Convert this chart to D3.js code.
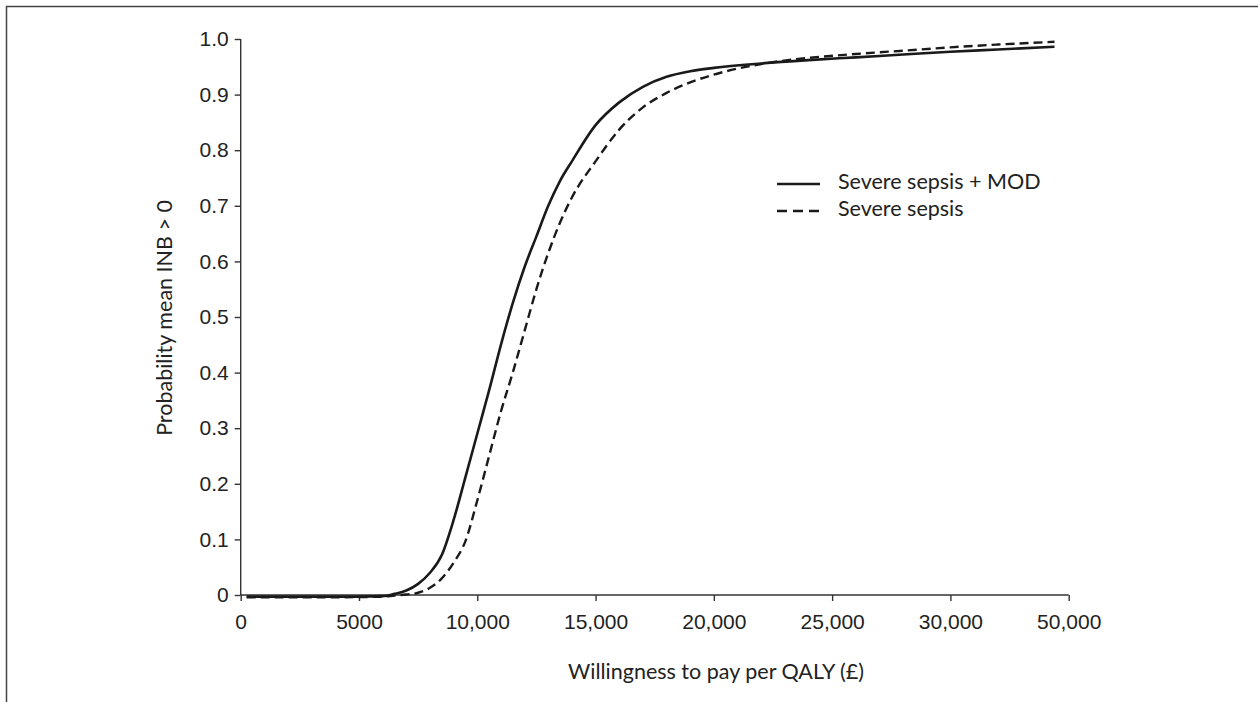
<!DOCTYPE html>
<html>
<head>
<meta charset="utf-8">
<script src="https://cdn.jsdelivr.net/npm/d3@7"></script>
<style>
  body { margin: 0; background: #fff; }
  svg { display: block; font-family: Lato, "Open Sans", sans-serif; }
  .axis path, .axis line { stroke: #333; stroke-width: 1.4px; }
  .axis text { fill: #222; font-size: 21px; }
</style>
</head>
<body>
<svg id="chart" width="1258" height="702"></svg>
<script>
// willingness to pay (x positions on the chart's own scale)
const wtp = [250, 2000, 4000, 6000, 6500, 7000, 7500, 8000, 8500, 9000, 9500, 10000,
  10500, 11000, 11500, 12000, 12500, 13000, 13500, 14000, 15000, 16000, 17000,
  18000, 19000, 20000, 22000, 24000, 26000, 28000, 30000, 32000, 34400];

const sepsisMod = [-0.003, -0.003, -0.003, -0.002, 0.002, 0.008, 0.02, 0.04, 0.072, 0.135,
  0.212, 0.29, 0.368, 0.45, 0.525, 0.59, 0.645, 0.70, 0.745, 0.78, 0.845, 0.886,
  0.914, 0.932, 0.942, 0.948, 0.956, 0.962, 0.967, 0.972, 0.977, 0.981, 0.986];

const sepsis = [-0.004, -0.004, -0.004, -0.003, -0.001, 0.001, 0.004, 0.013, 0.03, 0.058,
  0.097, 0.17, 0.25, 0.33, 0.40, 0.475, 0.55, 0.615, 0.67, 0.715, 0.78, 0.837,
  0.877, 0.903, 0.922, 0.936, 0.955, 0.966, 0.973, 0.979, 0.985, 0.99, 0.995];

const xTicks = [0, 5000, 10000, 15000, 20000, 25000, 30000, 35000];
const xTickLabels = ["0", "5000", "10,000", "15,000", "20,000", "25,000", "30,000", "50,000"];
const yTicks = [0, 0.1, 0.2, 0.3, 0.4, 0.5, 0.6, 0.7, 0.8, 0.9, 1.0];

const seriesNames = ["Severe sepsis + MOD", "Severe sepsis"];

const svg = d3.select("#chart");

// outer frame
svg.append("rect")
  .attr("x", 6.5).attr("y", 6.5)
  .attr("width", 1400).attr("height", 900)
  .attr("fill", "none")
  .attr("stroke", "#444")
  .attr("stroke-width", 1.5);

const plotLeft = 240.7, plotRight = 1068.7, plotTop = 39, plotBottom = 595;

const x = d3.scaleLinear().domain([0, 35000]).range([plotLeft, plotRight]);
const y = d3.scaleLinear().domain([0, 1]).range([plotBottom, plotTop]);

const xAxis = svg.append("g")
  .attr("class", "axis")
  .attr("transform", `translate(0,${plotBottom})`)
  .call(d3.axisBottom(x)
    .tickValues(xTicks)
    .tickSize(6)
    .tickSizeOuter(0)
    .tickPadding(13)
    .tickFormat((d, i) => xTickLabels[i]));

const yAxis = svg.append("g")
  .attr("class", "axis")
  .attr("transform", `translate(${plotLeft},0)`)
  .call(d3.axisLeft(y)
    .tickValues(yTicks)
    .tickSize(6)
    .tickSizeOuter(0)
    .tickPadding(6)
    .tickFormat(d => d === 0 ? "0" : d.toFixed(1)));

xAxis.select(".domain").attr("d", `M${plotLeft},0H${plotRight}`);
yAxis.select(".domain").attr("d", `M0,${plotBottom}V${plotTop}`);

// axis titles
svg.append("text")
  .attr("x", 716).attr("y", 679)
  .attr("text-anchor", "middle")
  .attr("font-size", 21.5)
  .attr("fill", "#222")
  .text("Willingness to pay per QALY (£)");

svg.append("text")
  .attr("transform", "translate(172,318) rotate(-90)")
  .attr("text-anchor", "middle")
  .attr("font-size", 21.5)
  .attr("fill", "#222")
  .text("Probability mean INB > 0");

const line = values => d3.line()
  .x((d, i) => x(wtp[i]))
  .y(d => y(d))
  .curve(d3.curveMonotoneX)(values);

svg.append("path")
  .attr("d", line(sepsis))
  .attr("fill", "none")
  .attr("stroke", "#1a1a1a")
  .attr("stroke-width", 2.4)
  .attr("stroke-dasharray", "9,5");

svg.append("path")
  .attr("d", line(sepsisMod))
  .attr("fill", "none")
  .attr("stroke", "#1a1a1a")
  .attr("stroke-width", 2.6);

// legend
const legend = svg.append("g").attr("transform", "translate(777,184)");
seriesNames.forEach((name, i) => {
  const g = legend.append("g").attr("transform", `translate(0,${i * 27})`);
  g.append("line")
    .attr("x1", 0).attr("x2", 43)
    .attr("stroke", "#1a1a1a")
    .attr("stroke-width", 2.4)
    .attr("stroke-dasharray", i === 1 ? "10,6" : null);
  g.append("text")
    .attr("x", 61).attr("y", 5)
    .attr("font-size", 21.5)
    .attr("fill", "#222")
    .text(name);
});
</script>
</body>
</html>
